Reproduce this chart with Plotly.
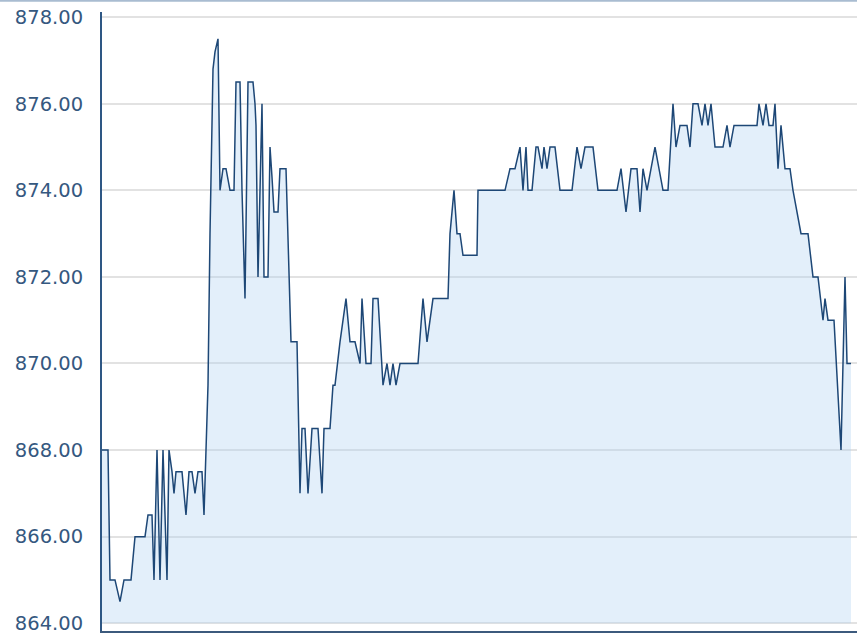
import plotly.graph_objects as go

# sample number (time index) and price at each change point
t = [0, 6, 8, 13, 18, 22, 29, 33, 43, 46, 50, 52, 55, 58, 61, 63, 65, 67, 70, 72,
     74, 80, 84, 87, 90, 93, 96, 100, 102, 104, 106, 108, 111, 113, 116, 118, 121, 124, 128, 132,
     134, 138, 140, 143, 146, 151, 153, 154, 156, 160, 162, 166, 168, 170, 172, 176, 178, 184, 186, 189,
     195, 198, 200, 203, 206, 210, 216, 220, 222, 228, 231, 233, 238, 244, 248, 253, 258, 260, 264, 269,
     271, 276, 281, 285, 288, 291, 294, 298, 316, 321, 325, 331, 346, 348, 352, 355, 358, 361, 375, 376,
     403, 408, 413, 418, 421, 424, 426, 430, 434, 436, 440, 442, 445, 448, 453, 458, 470, 475, 479, 483,
     491, 496, 515, 519, 524, 529, 535, 538, 541, 545, 553, 561, 566, 571, 574, 578, 585, 588, 591, 596,
     600, 603, 606, 609, 613, 621, 625, 628, 632, 655, 657, 661, 664, 667, 671, 673, 676, 679, 683, 688,
     691, 695, 699, 706, 711, 716, 721, 723, 726, 732, 735, 739, 743, 745, 749]

price = [868, 868, 865, 865, 864.5, 865, 865, 866, 866, 866.5, 866.5, 865, 868, 865, 868, 866.5, 865, 868, 867.5, 867,
         867.5, 867.5, 866.5, 867.5, 867.5, 867, 867.5, 867.5, 866.5, 868, 869.5, 873, 876.8, 877.2, 877.5, 874, 874.5, 874.5, 874, 874,
         876.5, 876.5, 874, 871.5, 876.5, 876.5, 876, 875.5, 872, 876, 872, 872, 875, 874.3, 873.5, 873.5, 874.5, 874.5, 872.7, 870.5,
         870.5, 867, 868.5, 868.5, 867, 868.5, 868.5, 867, 868.5, 868.5, 869.5, 869.5, 870.5, 871.5, 870.5, 870.5, 870, 871.5, 870, 870,
         871.5, 871.5, 869.5, 870, 869.5, 870, 869.5, 870, 870, 871.5, 870.5, 871.5, 871.5, 873, 874, 873, 873, 872.5, 872.5, 874,
         874, 874.5, 874.5, 875, 874, 875, 874, 874, 875, 875, 874.5, 875, 874.5, 875, 875, 874, 874, 875, 874.5, 875,
         875, 874, 874, 874.5, 873.5, 874.5, 874.5, 873.5, 874.5, 874, 875, 874, 874, 876, 875, 875.5, 875.5, 875, 876, 876,
         875.5, 876, 875.5, 876, 875, 875, 875.5, 875, 875.5, 875.5, 876, 875.5, 876, 875.5, 875.5, 876, 874.5, 875.5, 874.5, 874.5,
         874, 873.5, 873, 873, 872, 872, 871, 871.5, 871, 871, 869.7, 868, 872, 870, 870]

y_ticks = [864, 866, 868, 870, 872, 874, 876, 878]
y_tick_text = ["864.00", "866.00", "868.00", "870.00", "872.00", "874.00", "876.00", "878.00"]
baseline = 864

fig = go.Figure()
fig.add_trace(go.Scatter(x=[t[0], t[-1]], y=[baseline, baseline], mode="lines",
                         line=dict(width=0), hoverinfo="skip", showlegend=False))
fig.add_trace(go.Scatter(x=t, y=price, mode="lines", fill="tonexty",
                         fillcolor="rgba(175,209,241,0.35)",
                         line=dict(color="#1d4776", width=1.5), showlegend=False))

fig.update_layout(
    width=857, height=634,
    margin=dict(l=102, r=0, t=12, b=3, autoexpand=False),
    paper_bgcolor="white", plot_bgcolor="white",
    xaxis=dict(range=[0, 755], showgrid=False, zeroline=False, showticklabels=False,
               showline=True, linecolor="#3c5a7d", linewidth=2, ticks="", automargin=False),
    yaxis=dict(range=[863.82, 878.12], tickvals=y_ticks, ticktext=y_tick_text,
               showgrid=True, gridcolor="#e2e2e2", gridwidth=1.5, zeroline=False,
               showline=True, linecolor="#2e5784", linewidth=2, ticks="",
               ticklabelstandoff=13, automargin=False, ticklabeloverflow="allow",
               tickfont=dict(family="DejaVu Sans", size=19.5, color="#35587f")),
    shapes=[dict(type="line", xref="paper", yref="paper", x0=-0.2, x1=1.0,
                 y0=1 + 11.3 / 619, y1=1 + 11.3 / 619,
                 line=dict(color="#a9bcd1", width=2))],
)

fig.write_html("out.html", config={"displayModeBar": False},
               post_script="document.body.style.margin='0';document.body.style.overflow='hidden';")
